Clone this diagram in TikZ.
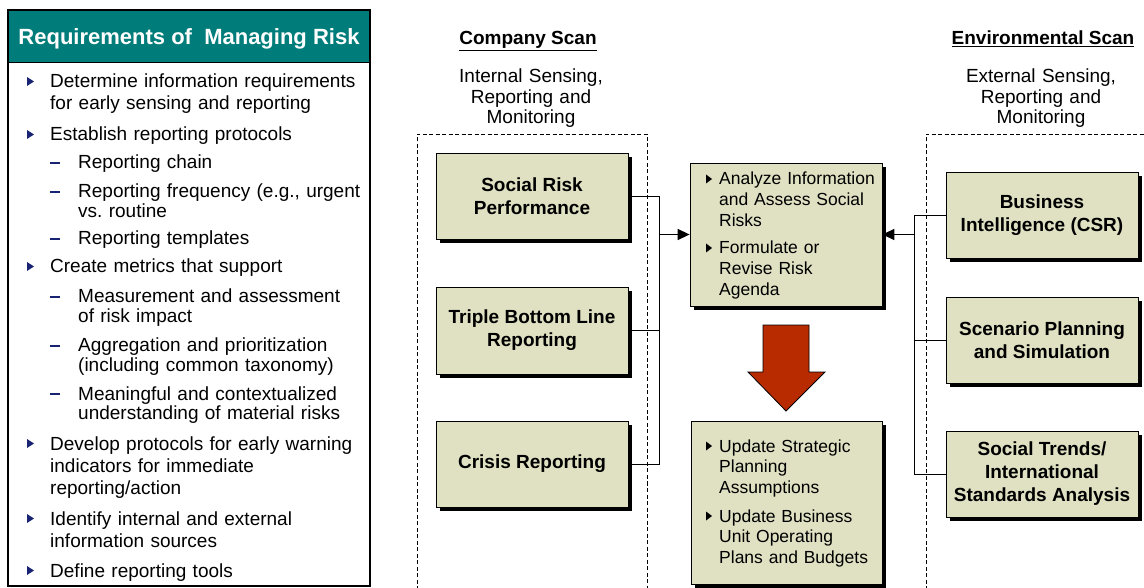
\documentclass[tikz,border=0pt]{standalone}
\usepackage{fontspec}
\setmainfont{Liberation Sans}
\usetikzlibrary{arrows.meta,shadows}
\definecolor{riskteal}{RGB}{0,125,122}
\definecolor{boxfill}{RGB}{224,224,194}
\definecolor{navy}{RGB}{25,35,115}
\definecolor{arrowred}{RGB}{184,42,0}
\newcommand\headfnt{\fontsize{22}{26}\selectfont}
\newcommand\itemfnt{\fontsize{19}{22}\selectfont}
\newcommand\subfnt{\fontsize{19}{19.6}\selectfont}
\newcommand\boxfnt{\fontsize{19}{23}\selectfont\bfseries}
\newcommand\notefnt{\fontsize{17.5}{20.8}\selectfont}
\newcommand\sensefnt{\fontsize{19}{20.5}\selectfont}
\frenchspacing

\begin{document}
\begin{tikzpicture}
[x=1pt,y=-1pt,
 box/.style={rectangle,draw,line width=0.8pt,fill=boxfill,minimum width=192pt,minimum height=86pt,
   align=center,font=\boxfnt,drop shadow={shadow xshift=4pt,shadow yshift=-4pt,fill=black,opacity=1}},
 item/.style={anchor=base west,inner sep=0pt,text width=315pt,align=left,font=\itemfnt},
 subitem/.style={item,text width=288pt,font=\subfnt},
 note/.style={item,text width=165pt,font=\notefnt},
 scan/.style={anchor=base,inner sep=0pt,font=\bfseries\itemfnt},
 sense/.style={anchor=base,inner sep=0pt,text width=200pt,align=center,font=\sensefnt},
 frame/.style={line width=0.8pt,dash pattern=on 4pt off 2.5pt},
 link/.style={line width=0.9pt},
 arr/.style={line width=1.5pt,-{Triangle[length=12pt,width=11pt]}}]
\useasboundingbox (0,0) rectangle (1144,588);

\fill[riskteal] (8,10) rectangle (370,62);
\draw[line width=0.8pt] (8,62) -- (370,62);
\draw[line width=1.6pt] (8,10) rectangle (370,586);
\node[anchor=base,inner sep=0pt,text=white,font=\bfseries\headfnt] (reqtitle) at (189,45) {Requirements of~~Managing Risk};

\node[item] (req1) at (50,88) {Determine information requirements\\for early sensing and reporting};
\node[item] (req2) at (50,141) {Establish reporting protocols};
\node[subitem] (sub1) at (78,169) {Reporting chain};
\node[subitem] (sub2) at (78,198) {Reporting frequency (e.g., urgent\\vs. routine};
\node[subitem] (sub3) at (78,245) {Reporting templates};
\node[item] (req3) at (50,273) {Create metrics that support};
\node[subitem] (sub4) at (78,303) {Measurement and assessment\\of risk impact};
\node[subitem] (sub5) at (78,352) {Aggregation and prioritization\\(including common taxonomy)};
\node[subitem] (sub6) at (78,400) {Meaningful and contextualized\\understanding of material risks};
\node[item] (req4) at (50,450) {Develop protocols for early warning\\indicators for immediate\\reporting/action};
\node[item] (req5) at (50,525) {Identify internal and external\\information sources};
\node[item] (req6) at (50,577) {Define reporting tools};
\foreach \y in {88,141,273,450,525,577}
  \fill[navy] (27,\y-11) -- (34,\y-6.5) -- (27,\y-2) -- cycle;
\foreach \y in {169,198,245,303,352,400}
  \draw[navy,line width=1.2pt] (50,\y-6) -- (60,\y-6);

\node[scan] (compscan) at (528,45) {\underline{Company Scan}};
\node[scan] (envscan) at (1043,45) {\underline{Environmental Scan}};
\node[sense] (internal) at (531,83) {Internal Sensing,\\Reporting and\\Monitoring};
\node[sense] (external) at (1041,83) {External Sensing,\\Reporting and\\Monitoring};

\draw[frame] (417,590) -- (417,134) -- (647,134) -- (647,590);
\draw[frame] (926,590) -- (926,134) -- (1146,134);

\node[box] (social) at (532,196) {Social Risk\\Performance};
\node[box,minimum height=87pt] (triple) at (532,330.5) {Triple Bottom Line\\Reporting};
\node[box] (crisis) at (532,464) {Crisis Reporting};
\node[box,minimum height=143pt] (analyze) at (786,234.5) {};
\node[box,minimum width=191pt,minimum height=163pt] (update) at (786.5,502.5) {};
\node[box] (intel) at (1042,215) {Business\\Intelligence (CSR)};
\node[box] (scenario) at (1042,340) {Scenario Planning\\and Simulation};
\node[box] (trends) at (1042,474) {Social Trends/\\International\\Standards Analysis};

\node[note] (analyze1) at (719,185) {Analyze Information\\and Assess Social\\Risks};
\node[note] (analyze2) at (719,254) {Formulate or\\Revise Risk\\Agenda};
\node[note] (update1) at (719,452) {Update Strategic\\Planning\\Assumptions};
\node[note] (update2) at (719,522) {Update Business\\Unit Operating\\Plans and Budgets};
\foreach \y in {185,254,452,522}
  \fill (706,\y-10.5) -- (712,\y-6) -- (706,\y-1.5) -- cycle;

\draw[line width=0.8pt,fill=arrowred] (763,325) -- (809,325) -- (809,372) -- (825,372)
  -- (786,411) -- (748,372) -- (763,372) -- cycle;

\coordinate (ljoin) at (659,234.5);
\coordinate (rjoin) at (914,234.5);
\draw[link] (social.east) -| (ljoin);
\draw[link] (triple.east) -| (ljoin);
\draw[link] (crisis.east) -| (ljoin);
\draw[arr] (ljoin) -- (analyze.west);
\draw[link] (intel.west) -| (rjoin);
\draw[link] (scenario.west) -| (rjoin);
\draw[link] (trends.west) -| (rjoin);
\draw[arr] (rjoin) -- (analyze.east);
\end{tikzpicture}
\end{document}
